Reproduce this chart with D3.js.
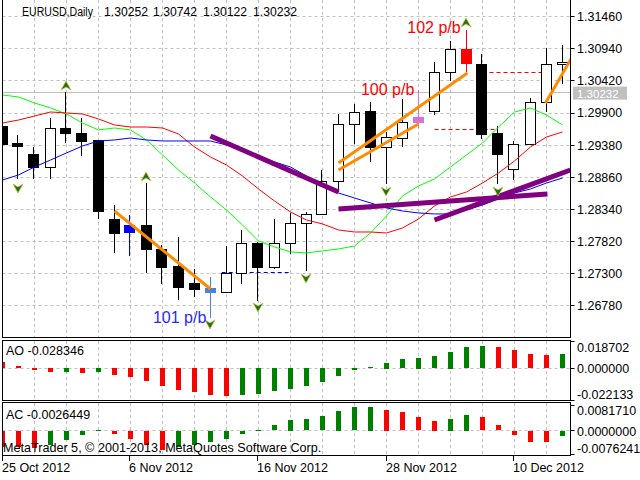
<!DOCTYPE html>
<html><head><meta charset="utf-8">
<script src="https://cdn.jsdelivr.net/npm/d3@7"></script>
<style>
html,body{margin:0;padding:0;background:#fff;}
svg{display:block;font-family:"Liberation Sans",Arial,sans-serif;}
</style></head><body>
<svg id="c" width="640" height="480"></svg>
<script>
// ---------- DATA ----------
const dates = ["25 Oct","26 Oct","29 Oct","30 Oct","31 Oct","1 Nov","2 Nov","5 Nov","6 Nov","7 Nov","8 Nov","9 Nov","12 Nov","13 Nov","14 Nov","15 Nov","16 Nov","19 Nov","20 Nov","21 Nov","22 Nov","23 Nov","26 Nov","27 Nov","28 Nov","29 Nov","30 Nov","3 Dec","4 Dec","5 Dec","6 Dec","7 Dec","10 Dec","11 Dec","12 Dec","13 Dec"];
const openP  = [1.29691,1.29416,1.29238,1.29028,1.29659,1.29583,1.29465,1.28187,1.28090,1.28090,1.27701,1.27426,1.27151,1.27070,1.27005,1.27313,1.27798,1.27410,1.27798,1.28122,1.28268,1.28801,1.29724,1.29934,1.29352,1.29497,1.29740,1.29934,1.30565,1.30937,1.30694,1.29578,1.28996,1.29400,1.30080,1.30694];
const highP  = [1.29724,1.29546,1.29352,1.29821,1.30241,1.29821,1.29470,1.28413,1.28251,1.28769,1.27766,1.27895,1.27378,1.27248,1.27750,1.28009,1.27814,1.28187,1.28284,1.28300,1.28979,1.29885,1.30047,1.30080,1.29594,1.30128,1.30274,1.30727,1.31067,1.31245,1.30856,1.29691,1.29449,1.30144,1.30953,1.31002];
const lowP   = [1.29368,1.28850,1.28850,1.28850,1.29432,1.29222,1.28203,1.27653,1.27604,1.27329,1.27151,1.26892,1.26941,1.26601,1.26997,1.27151,1.26876,1.27394,1.27637,1.27361,1.28260,1.28640,1.29416,1.29125,1.28769,1.29368,1.29675,1.29885,1.30436,1.30581,1.29497,1.28769,1.28834,1.29400,1.29934,1.30387];
const closeP = [1.29400,1.29368,1.29028,1.29659,1.29578,1.29449,1.28316,1.27960,1.27960,1.27701,1.27410,1.27086,1.27054,1.26989,1.27313,1.27798,1.27410,1.27798,1.28122,1.28268,1.28801,1.29724,1.29918,1.29352,1.29513,1.29756,1.29837,1.30565,1.30937,1.30694,1.29562,1.29238,1.29400,1.30080,1.30694,1.30727];

const maGreen = [1.30193,1.30161,1.30064,1.29983,1.29886,1.29740,1.29627,1.29659,1.29627,1.29465,1.29222,1.28979,1.28769,1.28543,1.28332,1.28090,1.27831,1.27734,1.27653,1.27637,1.27669,1.27701,1.27750,1.27960,1.28235,1.28559,1.28721,1.28834,1.29028,1.29222,1.29416,1.29675,1.29918,1.29983,1.29869,1.29708];
const maRed   = [1.29740,1.29788,1.29853,1.29918,1.29902,1.29886,1.29805,1.29708,1.29675,1.29675,1.29659,1.29562,1.29352,1.29190,1.29060,1.28882,1.28672,1.28478,1.28300,1.28170,1.28106,1.28009,1.27976,1.27976,1.27960,1.28041,1.28187,1.28397,1.28543,1.28623,1.28769,1.28931,1.29125,1.29352,1.29513,1.29594];
const maBlue  = [1.28818,1.28899,1.29028,1.29141,1.29255,1.29368,1.29449,1.29465,1.29497,1.29465,1.29449,1.29449,1.29449,1.29449,1.29384,1.29303,1.29206,1.29109,1.29028,1.28882,1.28721,1.28607,1.28526,1.28446,1.28365,1.28316,1.28284,1.28268,1.28268,1.28332,1.28413,1.28510,1.28607,1.28672,1.28769,1.28850];

const aoValues = [0.0041,0.0015,-0.0016,-0.0030,-0.0029,-0.0031,-0.0029,-0.0046,-0.0064,-0.0091,-0.0125,-0.0153,-0.0166,-0.0182,-0.0189,-0.0182,-0.0180,-0.0160,-0.0141,-0.0125,-0.0098,-0.0057,-0.0016,0.0009,0.0039,0.0064,0.0073,0.0084,0.0114,0.0146,0.0153,0.0146,0.0125,0.0098,0.0091,0.0098];
const aoRising = [0,0,0,0,1,0,1,0,0,0,0,0,0,0,0,1,1,1,1,1,1,1,1,1,1,1,1,1,1,1,1,0,0,0,0,1];
const acValues = [-0.0050,-0.0051,-0.0055,-0.0045,-0.0029,-0.0013,0.0003,-0.0010,-0.0027,-0.0045,-0.0061,-0.0050,-0.0045,-0.0036,-0.0026,-0.0010,0.0002,0.0017,0.0035,0.0036,0.0046,0.0064,0.0075,0.0076,0.0067,0.0058,0.0043,0.0032,0.0038,0.0051,0.0043,0.0017,-0.0013,-0.0034,-0.0035,-0.0015];
const acRising = [0,0,0,1,1,1,1,0,0,0,0,1,1,1,1,1,1,1,1,1,1,1,1,1,0,0,0,0,1,1,0,0,0,0,0,1];

const priceTicks = [1.31460,1.30940,1.30420,1.29900,1.29380,1.28860,1.28340,1.27820,1.27300,1.26780];
const priceTickLabels = ["1.31460","1.30940","1.30420","1.29900","1.29380","1.28860","1.28340","1.27820","1.27300","1.26780"];
const aoTicks = [0.018702,0,-0.022133];
const aoTickLabels = ["0.018702","0.000000","-0.022133"];
const acTicks = [0.0081710,0,-0.0076241];
const acTickLabels = ["0.0081710","0.0000000","-0.0076241"];
const dateTickIdx = [0,8,16,24,32];
const dateTickLabels = ["25 Oct 2012","6 Nov 2012","16 Nov 2012","28 Nov 2012","10 Dec 2012"];
const lastPrice = 1.30232;
const headerParts = ["EURUSD,Daily","1.30252","1.30742","1.30122","1.30232"];

// trendlines: [index1, price1, index2, price2]
const orangeLines = [[7,1.28316,13,1.27054],[21,1.29093,29.06,1.30549],[21,1.28979,26,1.29724],[33.94,1.30064,35.6,1.30808]];
const purpleLines = [[13,1.29530,21,1.28623],[21,1.28348,34.06,1.28591],[27,1.28170,35.5,1.28979]];
// dashed levels: [index from, index to, price]
const redLevels = [[30,34.06,1.30549],[27,30.9,1.29627]];
const blueLevels = [[13.7,18,1.27313]];
// labels
const pbText = ["100 p/b","102 p/b","101 p/b"];
const pbIdx = [22.4,25.3,9.4];
const pbPrice = [1.30193,1.31196,1.26504];
// fractals
const fractalUpIdx = [4,9,29];
const fractalUpPrice = [1.30419,1.28947,1.31439];
const fractalDnIdx = [1,13,16,19,24,31];
const fractalDnPrice = [1.28607,1.26407,1.26682,1.27151,1.28559,1.28559];

// ---------- STYLE ----------
const specialColor = {8:"#0000ff",13:"#4682e6",26:"#da70d6",29:"#ff0000"};
const pbColor = ["#ff0000","#ff0000","#2a2aff"];
const gridColor = "#c0c0c0";
const headerX = [22,104,153,203,253];
const headerW = [71,44,44,44,44];
const FS = 12.5;

// ---------- SCALES ----------
const svg = d3.select("#c");
const x = d3.scaleLinear().domain([0,35]).range([2.5,562.5]);
const y = d3.scaleLinear().domain([1.26780,1.31460]).range([305.9,16.7]);
const yAO = d3.scaleLinear().domain([-0.022133,0.018702]).range([400.7,341]);
const yAC = d3.scaleLinear().domain([-0.0076241,0.0081710]).range([454.3,405]);
const cr = v => Math.floor(v)+0.5;
const FL = 2.5, FR = 570.5;

const defs = svg.append("defs");
defs.append("clipPath").attr("id","cm").append("rect").attr("x",3).attr("y",0).attr("width",567).attr("height",338);
defs.append("clipPath").attr("id","cao").append("rect").attr("x",3).attr("y",341).attr("width",567).attr("height",60);
defs.append("clipPath").attr("id","cac").append("rect").attr("x",3).attr("y",403).attr("width",567).attr("height",53);

const gridIdx = d3.range(2,35,2);
// ---------- MAIN PANEL ----------
const main = svg.append("g").attr("clip-path","url(#cm)");
main.selectAll(".hg").data(priceTicks).join("line")
  .attr("x1",FL).attr("x2",FR).attr("y1",d=>cr(y(d))).attr("y2",d=>cr(y(d)))
  .attr("stroke",gridColor).attr("stroke-dasharray","3,3");
main.selectAll(".vg").data(gridIdx).join("line")
  .attr("x1",d=>cr(x(d))).attr("x2",d=>cr(x(d))).attr("y1",0).attr("y2",338)
  .attr("stroke",gridColor).attr("stroke-dasharray","3,3");
main.append("line").attr("x1",FL).attr("x2",FR).attr("y1",cr(y(lastPrice))).attr("y2",cr(y(lastPrice)))
  .attr("stroke","#c0c0c0");

// dashed levels
main.selectAll(".rl").data(redLevels).join("line")
  .attr("x1",d=>x(d[0])).attr("x2",d=>x(d[1])).attr("y1",d=>cr(y(d[2]))).attr("y2",d=>cr(y(d[2])))
  .attr("stroke","#ff0000").attr("stroke-dasharray","4,3");
main.selectAll(".bl").data(blueLevels).join("line")
  .attr("x1",d=>x(d[0])).attr("x2",d=>x(d[1])).attr("y1",d=>cr(y(d[2]))).attr("y2",d=>cr(y(d[2])))
  .attr("stroke","#0000c8").attr("stroke-dasharray","4,3");

// candles
const idx = d3.range(openP.length);
const cg = main.append("g");
idx.forEach(i=>{
  const cx = cr(x(i) - 0.5);
  const col = specialColor[i];
  cg.append("line").attr("x1",cx).attr("x2",cx).attr("y1",Math.round(y(highP[i]))).attr("y2",Math.round(y(lowP[i]))+1)
    .attr("stroke",col||"#000");
  const top = Math.round(y(Math.max(openP[i],closeP[i])));
  const bot = Math.round(y(Math.min(openP[i],closeP[i])));
  const bull = closeP[i] >= openP[i];
  if(col){
    cg.append("rect").attr("x",cx-5.5).attr("y",top).attr("width",11).attr("height",Math.max(bot-top,2)).attr("fill",col);
  } else {
    cg.append("rect").attr("x",cx-5).attr("y",top+0.5).attr("width",10).attr("height",Math.max(bot-top,1))
      .attr("fill",bull?"#fff":"#000").attr("stroke","#000");
  }
});

// moving averages
const ln = d3.line().x((d,i)=>x(i)).y(d=>y(d));
[[maGreen,"#00ff00"],[maRed,"#ff0000"],[maBlue,"#0000ff"]].forEach(([s,c])=>{
  main.append("path").attr("d",ln(s)).attr("fill","none").attr("stroke",c).attr("stroke-width",1);
});

// trendlines
main.selectAll(".pl").data(purpleLines).join("line")
  .attr("x1",d=>x(d[0])).attr("y1",d=>y(d[1])).attr("x2",d=>x(d[2])).attr("y2",d=>y(d[3]))
  .attr("stroke","#800080").attr("stroke-width",5);
main.selectAll(".ol").data(orangeLines).join("line")
  .attr("x1",d=>x(d[0])).attr("y1",d=>y(d[1])).attr("x2",d=>x(d[2])).attr("y2",d=>y(d[3]))
  .attr("stroke","#ff8c00").attr("stroke-width",3);

// fractals
fractalUpIdx.forEach((b,k)=>{
  const cx = x(b)-0.5, ty = y(fractalUpPrice[k]);
  main.append("path").attr("d",`M${cx},${ty} L${cx+5},${ty+9} L${cx},${ty+6} L${cx-5},${ty+9} Z`)
    .attr("fill","#1e6e1e").attr("stroke","#c8c040").attr("stroke-width",0.8);
});
fractalDnIdx.forEach((b,k)=>{
  const cx = x(b)-0.5, by = y(fractalDnPrice[k]);
  main.append("path").attr("d",`M${cx},${by} L${cx+5},${by-9} L${cx},${by-6} L${cx-5},${by-9} Z`)
    .attr("fill","#1e6e1e").attr("stroke","#c8c040").attr("stroke-width",0.8);
});

// p/b labels
pbText.forEach((t,k)=>{
  main.append("text").attr("x",x(pbIdx[k])).attr("y",y(pbPrice[k])).text(t)
    .attr("fill",pbColor[k]).attr("font-size",16);
});

// header
headerParts.forEach((t,k)=>{
  svg.append("text").attr("x",headerX[k]).attr("y",16).attr("font-size",FS).attr("fill","#000")
    .attr("textLength",headerW[k]).attr("lengthAdjust","spacingAndGlyphs").text(t);
});

// ---------- AO PANEL ----------
const ao = svg.append("g").attr("clip-path","url(#cao)");
ao.selectAll("line.v").data(gridIdx).join("line")
  .attr("x1",d=>cr(x(d))).attr("x2",d=>cr(x(d))).attr("y1",341).attr("y2",401)
  .attr("stroke",gridColor).attr("stroke-dasharray","3,3");
ao.append("line").attr("x1",FL).attr("x2",FR).attr("y1",cr(yAO(0))).attr("y2",cr(yAO(0)))
  .attr("stroke",gridColor).attr("stroke-dasharray","3,3");
ao.selectAll("rect").data(aoValues).join("rect")
  .attr("x",(d,i)=>Math.floor(x(i))-2).attr("width",5)
  .attr("y",d=>Math.round(Math.min(yAO(d),yAO(0))))
  .attr("height",d=>Math.max(1,Math.round(Math.abs(yAO(d)-yAO(0)))))
  .attr("fill",(d,i)=>aoRising[i]?"#008000":"#ff0000");
svg.append("text").attr("x",6).attr("y",355).attr("font-size",FS).text("AO -0.028346");

// ---------- AC PANEL ----------
const ac = svg.append("g").attr("clip-path","url(#cac)");
ac.selectAll("line.v").data(gridIdx).join("line")
  .attr("x1",d=>cr(x(d))).attr("x2",d=>cr(x(d))).attr("y1",403).attr("y2",456)
  .attr("stroke",gridColor).attr("stroke-dasharray","3,3");
ac.append("line").attr("x1",FL).attr("x2",FR).attr("y1",cr(yAC(0))).attr("y2",cr(yAC(0)))
  .attr("stroke",gridColor).attr("stroke-dasharray","3,3");
ac.selectAll("rect").data(acValues).join("rect")
  .attr("x",(d,i)=>Math.floor(x(i))-2).attr("width",5)
  .attr("y",d=>Math.round(Math.min(yAC(d),yAC(0))))
  .attr("height",d=>Math.max(1,Math.round(Math.abs(yAC(d)-yAC(0)))))
  .attr("fill",(d,i)=>acRising[i]?"#008000":"#ff0000");
svg.append("text").attr("x",6).attr("y",419).attr("font-size",FS).text("AC -0.0026449");
svg.append("text").attr("x",3).attr("y",452).attr("font-size",12.6).text("MetaTrader 5, \u00a9 2001-2013, MetaQuotes Software Corp.");

// ---------- FRAMES ----------
const frame = (y1,y2)=>svg.append("rect").attr("x",FL).attr("y",y1+0.5).attr("width",FR-FL).attr("height",y2-y1)
  .attr("fill","none").attr("stroke","#000");
frame(-1,337); frame(340,400); frame(402,455);

// ---------- RIGHT AXES ----------
const tick = (yy)=>svg.append("line").attr("x1",FR).attr("x2",FR+4).attr("y1",cr(yy)).attr("y2",cr(yy)).attr("stroke","#000");
priceTicks.forEach((p,k)=>{
  tick(y(p));
  svg.append("text").attr("x",577).attr("y",y(p)).attr("dy","0.35em").attr("font-size",FS).text(priceTickLabels[k]);
});
// last price box
svg.append("rect").attr("x",573).attr("y",y(lastPrice)-6).attr("width",54).attr("height",13).attr("fill","#c0c0c0");
svg.append("text").attr("x",577).attr("y",y(lastPrice)+1).attr("dy","0.35em").attr("font-size",11.5).attr("fill","#fff").text("1.30232");

const aoLabelY = [348,368.3,395];
aoTicks.forEach((v,k)=>{
  tick(yAO(v));
  svg.append("text").attr("x",577).attr("y",aoLabelY[k]).attr("dy","0.35em").attr("font-size",FS).text(aoTickLabels[k]);
});
const acLabelY = [411,431.5,449];
acTicks.forEach((v,k)=>{
  tick(yAC(v));
  svg.append("text").attr("x",577).attr("y",acLabelY[k]).attr("dy","0.35em").attr("font-size",FS).text(acTickLabels[k]);
});

// ---------- DATE AXIS ----------
dateTickIdx.forEach((b,k)=>{
  const xx = cr(x(b)-0.5);
  svg.append("line").attr("x1",xx).attr("x2",xx).attr("y1",456).attr("y2",461).attr("stroke","#000");
  svg.append("text").attr("x",xx-0.5).attr("y",472).attr("font-size",FS).text(dateTickLabels[k]);
});
</script>
</body></html>
